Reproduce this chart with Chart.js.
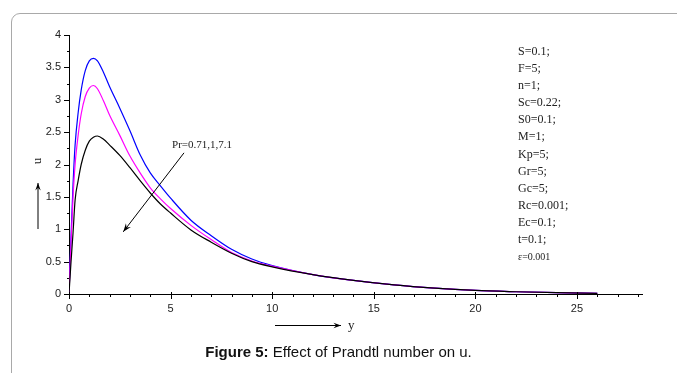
<!DOCTYPE html>
<html>
<head>
<meta charset="utf-8">
<title>Figure 5</title>
<script src="https://cdn.jsdelivr.net/npm/chart.js@4.4.0/dist/chart.umd.min.js"></script>
<style>
  html, body { margin: 0; padding: 0; background: #fff; }
  #wrap { position: relative; width: 677px; height: 373px; overflow: hidden; }
  #panel {
    position: absolute; left: 11px; top: 13px; width: 720px; height: 420px;
    border: 1px solid #a9a9a9; border-radius: 9px; box-sizing: border-box;
  }
  #chart { position: absolute; left: 0; top: 0; }
  #params {
    position: absolute; left: 518px; top: 43px;
    font-family: "Liberation Serif", "Times New Roman", serif;
    font-size: 12px; line-height: 17.1px; color: #222;
  }
  #params .small { font-size: 10px; }
  #caption {
    position: absolute; left: 0; top: 343px; width: 677px; text-align: center;
    font-family: "Liberation Sans", Arial, sans-serif; font-size: 15px; color: #111;
  }
</style>
</head>
<body>
<div id="wrap">
  <div id="panel"></div>
  <canvas id="chart" width="677" height="373"></canvas>
  <div id="params">
    S=0.1;<br>F=5;<br>n=1;<br>Sc=0.22;<br>S0=0.1;<br>M=1;<br>Kp=5;<br>Gr=5;<br>Gc=5;<br>Rc=0.001;<br>Ec=0.1;<br>t=0.1;<br><span class="small">ε=0.001</span>
  </div>
  <div id="caption"><b>Figure 5:</b> Effect of Prandtl number on u.</div>
</div>
<script>
// Distance y and velocity u
const yValues = [0, 0.1, 0.2, 0.3, 0.45, 0.6, 0.8, 1.0, 1.2, 1.4, 1.7, 2.0, 2.5, 3.0, 3.5, 4.0, 4.5, 5.0, 6.0, 7.0, 8.0, 9.0, 10, 12, 14, 16, 18, 20, 22, 24, 26];
const uPr071 = [0, 0.9, 1.7, 2.3, 2.8, 3.15, 3.45, 3.6, 3.64, 3.6, 3.42, 3.2, 2.87, 2.52, 2.15, 1.87, 1.67, 1.48, 1.14, 0.9, 0.69, 0.54, 0.44, 0.3, 0.21, 0.14, 0.09, 0.055, 0.035, 0.02, 0.01];
const uPr1   = [0, 0.8, 1.5, 2.0, 2.45, 2.78, 3.05, 3.18, 3.22, 3.17, 2.98, 2.76, 2.45, 2.13, 1.87, 1.64, 1.47, 1.32, 1.06, 0.84, 0.64, 0.51, 0.43, 0.3, 0.21, 0.14, 0.09, 0.055, 0.035, 0.02, 0.01];
const uPr71  = [0, 0.5, 0.95, 1.45, 1.75, 2.0, 2.22, 2.36, 2.42, 2.44, 2.39, 2.3, 2.14, 1.95, 1.75, 1.56, 1.39, 1.25, 0.99, 0.8, 0.63, 0.5, 0.42, 0.3, 0.21, 0.14, 0.09, 0.055, 0.035, 0.02, 0.01];

const xMax = 28.2;
const yMax = 4;
const prLabel = 'Pr=0.71,1,7.1';

function toPoints(vals) {
  return yValues.map((x, i) => ({ x: x, y: vals[i] }));
}

function arrow(ctx, x1, y1, x2, y2, head) {
  const a = Math.atan2(y2 - y1, x2 - x1);
  ctx.beginPath();
  ctx.moveTo(x1, y1);
  ctx.lineTo(x2, y2);
  ctx.stroke();
  ctx.beginPath();
  ctx.moveTo(x2, y2);
  ctx.lineTo(x2 - head * Math.cos(a - 0.35), y2 - head * Math.sin(a - 0.35));
  ctx.lineTo(x2 - head * 0.6 * Math.cos(a), y2 - head * 0.6 * Math.sin(a));
  ctx.lineTo(x2 - head * Math.cos(a + 0.35), y2 - head * Math.sin(a + 0.35));
  ctx.closePath();
  ctx.fill();
}

// Tick marks, arrows and axis labels
const extras = {
  id: 'extras',
  afterDraw(chart) {
    const { ctx, scales: { x, y } } = chart;
    const x0 = x.getPixelForValue(0);
    const y0 = y.getPixelForValue(0);
    ctx.save();
    ctx.strokeStyle = '#000';
    ctx.fillStyle = '#000';
    ctx.lineWidth = 1;

    x.ticks.forEach(t => {
      const px = Math.round(x.getPixelForValue(t.value)) + 0.5;
      const major = t.value % 5 === 0;
      ctx.beginPath();
      ctx.moveTo(px, y0 - (major ? 2 : 0));
      ctx.lineTo(px, y0 + (major ? 5 : 3));
      ctx.stroke();
    });
    y.ticks.forEach(t => {
      const py = Math.round(y.getPixelForValue(t.value)) + 0.5;
      const major = Math.abs(t.value * 2 - Math.round(t.value * 2)) < 1e-6;
      ctx.beginPath();
      ctx.moveTo(x0 - (major ? 5 : 2), py);
      ctx.lineTo(x0, py);
      ctx.stroke();
    });

    // Pr annotation arrow
    arrow(ctx, x.getPixelForValue(5.66), y.getPixelForValue(2.18),
               x.getPixelForValue(2.67), y.getPixelForValue(0.96), 9);
    ctx.font = '11px "Liberation Serif", serif';
    ctx.textAlign = 'left';
    ctx.textBaseline = 'middle';
    ctx.fillStyle = '#222';
    ctx.fillText(prLabel, x.getPixelForValue(5.07), y.getPixelForValue(2.3));

    // axis titles with arrows
    ctx.fillStyle = '#000';
    arrow(ctx, 38, 229, 38, 183, 8);
    arrow(ctx, 275, 325.5, 341, 325.5, 8);
    ctx.fillStyle = '#222';
    ctx.font = '13px "Liberation Serif", serif';
    ctx.textAlign = 'left';
    ctx.fillText('y', 348, 326);
    ctx.save();
    ctx.translate(38, 161);
    ctx.rotate(-Math.PI / 2);
    ctx.textAlign = 'center';
    ctx.fillText('u', 0, 0);
    ctx.restore();
    ctx.restore();
  }
};

const tickFont = { family: '"Liberation Sans", Arial, sans-serif', size: 11 };

new Chart(document.getElementById('chart'), {
  type: 'line',
  data: {
    datasets: [
      { label: 'Pr=7.1', data: toPoints(uPr71), borderColor: '#000000', borderWidth: 1.2 },
      { label: 'Pr=1', data: toPoints(uPr1), borderColor: '#ff00ff', borderWidth: 1.2 },
      { label: 'Pr=0.71', data: toPoints(uPr071), borderColor: '#0000ff', borderWidth: 1.2 }
    ]
  },
  options: {
    responsive: false,
    animation: false,
    elements: {
      point: { radius: 0 },
      line: { cubicInterpolationMode: 'monotone', fill: false }
    },
    layout: { padding: { left: 0, right: 35, top: 35, bottom: 49 } },
    plugins: { legend: { display: false }, tooltip: { enabled: false } },
    scales: {
      x: {
        type: 'linear', min: 0, max: xMax,
        afterFit: s => { s.height = 30; },
        border: { display: true, color: '#000', width: 1 },
        grid: { display: false, drawTicks: false },
        ticks: {
          stepSize: 1, includeBounds: false, autoSkip: false, maxRotation: 0,
          padding: 8, color: '#222', font: tickFont,
          callback: v => (v % 5 === 0 ? v : '')
        }
      },
      y: {
        type: 'linear', min: 0, max: yMax,
        afterFit: s => { s.width = 69; },
        border: { display: true, color: '#000', width: 1 },
        grid: { display: false, drawTicks: false },
        ticks: {
          stepSize: 0.25, autoSkip: false, padding: 8, color: '#222', font: tickFont,
          callback: v => (Math.abs(v * 2 - Math.round(v * 2)) < 1e-6 ? v : '')
        }
      }
    }
  },
  plugins: [extras]
});
</script>
</body>
</html>
